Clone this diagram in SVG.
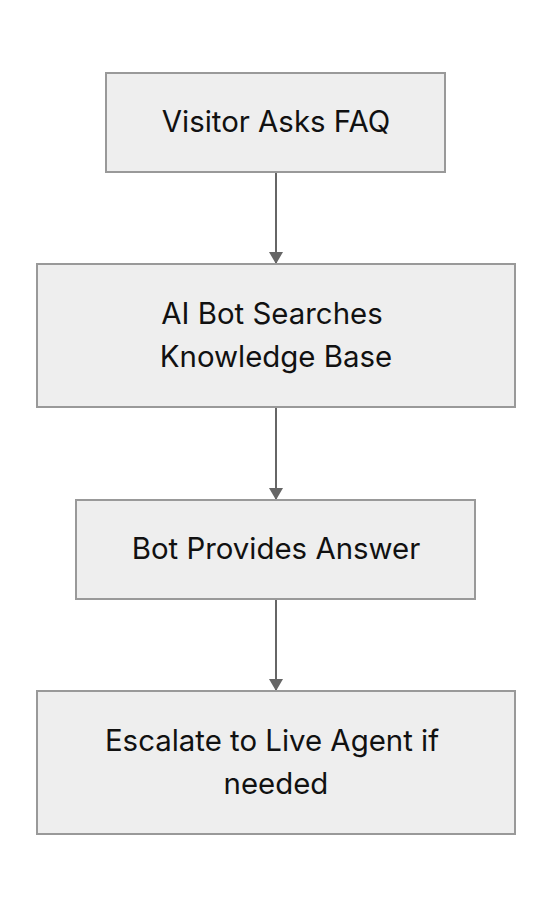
<svg xmlns="http://www.w3.org/2000/svg" width="552" height="908" viewBox="0 0 552 908">
<defs>
<style>
.box{fill:#eeeeee;stroke:#999999;stroke-width:2}
.lbl{font-family:Inter,"Noto Sans",sans-serif;font-size:29.4px;fill:#111111;text-anchor:middle}
.edge{stroke:#666666;stroke-width:2;fill:none}
</style>
<marker id="ah" viewBox="0 0 12 14" markerWidth="12" markerHeight="14" refX="12" refY="7" orient="auto" markerUnits="userSpaceOnUse">
<path d="M0,0 L12,7 L0,14 Z" fill="#666666"/>
</marker>
</defs>
<rect width="552" height="908" fill="#ffffff"/>
<g id="edges">
<path class="edge" d="M276,173 L276,264" marker-end="url(#ah)"/>
<path class="edge" d="M276,408 L276,500" marker-end="url(#ah)"/>
<path class="edge" d="M276,600 L276,691" marker-end="url(#ah)"/>
</g>
<g id="n1">
<rect class="box" x="106" y="73" width="339" height="99"/>
<text class="lbl" x="276" y="132">Visitor Asks FAQ</text>
</g>
<g id="n2">
<rect class="box" x="37" y="264" width="478" height="143"/>
<text class="lbl" x="272" y="324">AI Bot Searches</text>
<text class="lbl" x="276" y="367">Knowledge Base</text>
</g>
<g id="n3">
<rect class="box" x="76" y="500" width="399" height="99"/>
<text class="lbl" x="276" y="559">Bot Provides Answer</text>
</g>
<g id="n4">
<rect class="box" x="37" y="691" width="478" height="143"/>
<text class="lbl" x="272" y="751">Escalate to Live Agent if</text>
<text class="lbl" x="276" y="794">needed</text>
</g>
</svg>
